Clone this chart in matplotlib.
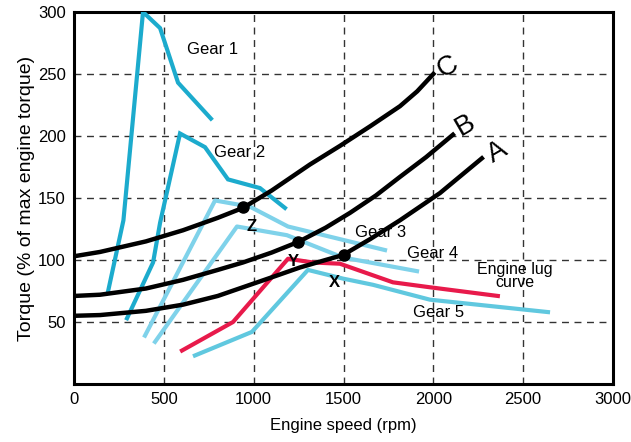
import matplotlib
matplotlib.use("Agg")
import matplotlib.pyplot as plt

plt.rcParams['font.family'] = ['Liberation Sans', 'DejaVu Sans']

# Gear torque demand curves (engine speed rpm, torque % of max)
gear1_rpm = [190, 275, 384, 479, 579, 762]
gear1_tq = [75, 132, 300, 287, 243, 214]

gear2_rpm = [295, 440, 479, 590, 729, 857, 1035, 1174]
gear2_tq = [53, 98, 130, 202, 191, 165, 158, 142]

gear3_rpm = [395, 785, 979, 1191, 1731]
gear3_tq = [39, 148, 143, 127, 108]

gear4_rpm = [451, 907, 1185, 1497, 1909]
gear4_tq = [34, 127, 120, 102, 91]

gear5_rpm = [673, 990, 1302, 1497, 1664, 1981, 2638]
gear5_tq = [23, 42, 92, 85, 80, 68, 58]

# Engine lug curve
lug_rpm = [601, 885, 1191, 1330, 1480, 1775, 1981, 2359]
lug_tq = [27, 50, 101, 98, 97, 82, 78, 71]

# Load curves A, B, C
curveA_rpm = [0, 145, 400, 607, 800, 940, 1100, 1258, 1400, 1497, 1650, 1814, 2037, 2270]
curveA_tq = [55, 55.6, 59, 64, 71, 78, 86, 94, 100, 104, 117, 132, 154, 182]

curveB_rpm = [0, 145, 400, 607, 800, 940, 1100, 1247, 1400, 1536, 1680, 1814, 1960, 2109]
curveB_tq = [71, 72, 77, 84, 92, 98, 106, 114.5, 126, 138, 152, 167, 183, 201]

curveC_rpm = [0, 145, 400, 607, 800, 940, 1100, 1313, 1480, 1650, 1814, 1910, 2000]
curveC_tq = [103, 106.5, 115, 124, 134, 142, 156, 177, 192, 208, 224, 236, 250]

# Operating points on the load curves
pt_labels = ['Z', 'Y', 'X']
pt_rpm = [943, 1247, 1500]
pt_tq = [143, 114.5, 104]

xticks = [0, 500, 1000, 1500, 2000, 2500, 3000]
yticks = [50, 100, 150, 200, 250, 300]

dark_cyan = '#1cabcd'
light_cyan = '#7fd2ea'
mid_cyan = '#60c8df'
red = '#e81a4b'

fig = plt.figure(figsize=(6.31, 4.42), dpi=100)
ax = fig.add_axes([0.1173, 0.1312, 0.8542, 0.8417])

ax.set_xlim(0, 3000)
ax.set_ylim(0, 300)
ax.set_xticks(xticks)
ax.set_yticks(yticks)
ax.tick_params(length=0, labelsize=12, pad=6)
ax.grid(True, linestyle=(0, (5, 4)), color='#333333', linewidth=1.0)
ax.set_axisbelow(True)
for s in ax.spines.values():
    s.set_linewidth(2.2)
    s.set_color('black')

lw = 3.0
ax.plot(gear1_rpm, gear1_tq, color=dark_cyan, lw=lw, solid_joinstyle='miter', zorder=3)
ax.plot(gear2_rpm, gear2_tq, color=dark_cyan, lw=lw, solid_joinstyle='miter', zorder=3)
ax.plot(gear3_rpm, gear3_tq, color=light_cyan, lw=lw, zorder=3)
ax.plot(gear4_rpm, gear4_tq, color=light_cyan, lw=lw, zorder=3)
ax.plot(gear5_rpm, gear5_tq, color=mid_cyan, lw=lw, zorder=3)
ax.plot(lug_rpm, lug_tq, color=red, lw=lw, zorder=4)

for xs, ys in [(curveA_rpm, curveA_tq), (curveB_rpm, curveB_tq), (curveC_rpm, curveC_tq)]:
    ax.plot(xs, ys, color='black', lw=3.2, solid_joinstyle='round', zorder=5)

ax.plot(pt_rpm, pt_tq, 'o', color='black', ms=8, zorder=6)
offsets = [(45, -16), (-25, -16), (-50, -22)]
for lab, x, y, (dx, dy) in zip(pt_labels, pt_rpm, pt_tq, offsets):
    ax.text(x + dx, y + dy, lab, fontsize=12, fontweight='bold', ha='center', va='center', zorder=6)

# Curve names
for lab, x, y in [('C', 2081, 255.5), ('B', 2176, 209), ('A', 2354, 187)]:
    ax.text(x, y, lab, fontsize=20, rotation=30, rotation_mode='anchor',
            ha='center', va='center')

# Gear labels
ax.text(770, 270, 'Gear 1', fontsize=12, ha='center', va='center')
ax.text(920, 187, 'Gear 2', fontsize=12, ha='center', va='center')
ax.text(1705, 122, 'Gear 3', fontsize=12, ha='center', va='center')
ax.text(1995, 105, 'Gear 4', fontsize=12, ha='center', va='center')
ax.text(2030, 58, 'Gear 5', fontsize=12, ha='center', va='center')
ax.text(2455, 87, 'Engine lug\ncurve', fontsize=11.5, ha='center', va='center', linespacing=0.8)

ax.set_xlabel('Engine speed (rpm)', fontsize=12, labelpad=8)
ax.set_ylabel('Torque (% of max engine torque)', fontsize=14, labelpad=2)

fig.savefig('out.png', dpi=100)
